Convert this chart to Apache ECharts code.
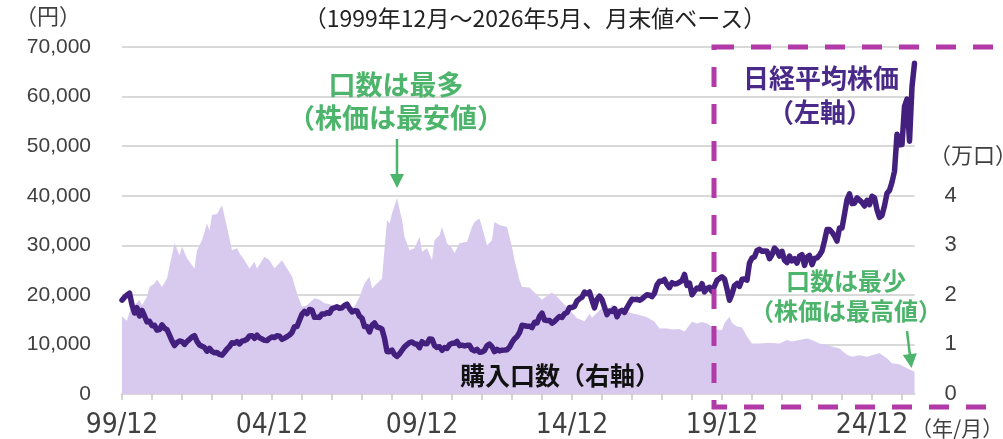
<!DOCTYPE html>
<html>
<head>
<meta charset="utf-8">
<script src="https://cdn.jsdelivr.net/npm/echarts@6/dist/echarts.min.js"></script>
<style>
  html, body { margin: 0; padding: 0; background: #fff; }
  #chart { width: 1003px; height: 439px; }
</style>
</head>
<body>
<div id="chart"></div>
<script>
// 日経平均株価 月末値 1999/12 ～ 2026/5 (index 0 = 1999/12)
var nikkei = [
  18934,
  19540, 19960, 20337, 17974, 16332, 17411, 15727, 16861, 15747, 14539, 14649, 13786,
  13844, 12884, 12999, 13934, 13262, 12969, 11861, 10714, 9775, 10367, 10697, 10543,
  9998, 10588, 11025, 11493, 11764, 10622, 9878, 9619, 9383, 8640, 9216, 8579,
  8340, 8363, 7973, 7831, 8425, 9083, 9563, 10344, 10219, 10560, 10101, 10677,
  10784, 11042, 11715, 11762, 11236, 11859, 11326, 11082, 10824, 10771, 11231, 11489,
  11388, 11741, 11669, 11009, 11277, 11584, 11900, 12414, 13574, 13607, 14872, 16111,
  16650, 16205, 17060, 16906, 15467, 15505, 15457, 16141, 16128, 16399, 16274, 17226,
  17383, 17604, 17288, 17400, 17876, 18138, 17249, 16569, 16786, 16738, 15681, 15308,
  13592, 13603, 12526, 13850, 14339, 13481, 13377, 13073, 11260, 8577, 8512, 8860,
  7994, 7568, 8110, 8828, 9523, 9958, 10357, 10493, 10133, 10035, 9346, 10546,
  10198, 10126, 11090, 11057, 9769, 9383, 9537, 8824, 9369, 9202, 9937, 10229,
  10238, 10624, 9755, 9850, 9694, 9816, 9833, 8955, 8700, 8988, 8435, 8455,
  8803, 9723, 10084, 9521, 8543, 9007, 8695, 8840, 8870, 8928, 9446, 10395,
  11139, 11559, 12398, 13861, 13775, 13677, 13668, 13389, 14456, 14328, 15662, 16291,
  14915, 14841, 14828, 14304, 14632, 15162, 15621, 15425, 16174, 16414, 17460, 17451,
  17674, 18798, 19207, 19520, 20563, 20236, 20585, 18890, 17388, 19083, 19747, 19034,
  17518, 16027, 16759, 16666, 17235, 15576, 16569, 16887, 16450, 17425, 18308, 19114,
  19041, 19119, 18909, 19197, 19651, 20033, 19925, 19646, 20356, 22012, 22725, 22765,
  23098, 22068, 21454, 22468, 22202, 22305, 22554, 22865, 24120, 21920, 22351, 20015,
  20773, 21385, 21206, 22259, 20601, 21276, 21522, 20704, 21756, 22927, 23294, 23657,
  23205, 21143, 18917, 20194, 21878, 22288, 21710, 23140, 23185, 22977, 26434, 27444,
  27663, 28966, 29179, 28813, 28860, 28792, 27284, 28090, 29453, 28893, 27822, 28792,
  27002, 26527, 27821, 26848, 27280, 26393, 27802, 28092, 25937, 27587, 27969, 26095,
  27327, 27446, 28041, 28856, 30888, 33189, 33172, 32619, 31858, 30859, 33487, 33464,
  36287, 39166, 40369, 38406, 38488, 39583, 39102, 38648, 37920, 39081, 38208, 39895,
  39572, 37156, 35618, 36045, 37965, 40487, 41070, 42718, 44933, 52411, 50254, 50339,
  58000, 59500, 51000, 62000, 66700
];

// 購入口数（万口）: [月数(1999/12からの経過月), 値]
var units = [
  [0,1.57],[1,1.52],[2,1.48],[4,1.83],[5,1.79],[7,1.9],[8,1.79],[10,1.96],[11,2.16],[13,2.23],
  [14,2.31],[16,2.16],[18,2.33],[19,2.57],[21,3.04],[23,2.8],[24,2.97],[26,2.74],[29,2.53],[30,2.9],
  [32,3.1],[34,3.44],[35,3.3],[36,3.61],[38,3.63],[40,3.81],[42,3.37],[44,2.9],[46,2.94],[47,2.84],
  [49,2.7],[51,2.53],[53,2.67],[54,2.53],[57,2.77],[59,2.7],[61,2.53],[64,2.7],[66,2.53],[68,2.37],
  [70,2.03],[72,1.76],[74,1.79],[77,1.93],[79,1.9],[81,1.83],[85,1.79],[89,1.76],[93,1.76],[95,1.96],
  [97,2.23],[99,2.37],[100,2.13],[102,2.23],[104,2.33],[106,3.51],[107,3.44],[108,3.64],[110,3.95],[112,3.51],
  [113,3.17],[115,2.9],[117,2.94],[119,3.17],[120,2.87],[122,2.94],[124,2.7],[125,3.1],[127,3.2],[128,3.37],
  [130,3.04],[132,2.94],[133,2.84],[135,3.04],[138,3.07],[140,3.37],[141,3.47],[143,3.54],[144,3.37],[146,3.0],
  [148,3.1],[149,3.47],[151,3.41],[154,3.37],[156,2.97],[157,2.7],[158,2.5],[159,2.3],[160,2.16],[163,2.15],
  [165,2.05],[168,1.9],[170,1.98],[172,2.05],[174,1.96],[177,1.8],[180,1.64],[182,1.53],[185,1.47],[187,1.62],
  [188,1.54],[190,1.64],[192,1.74],[194,1.65],[196,1.8],[199,1.72],[202,1.66],[204,1.63],[208,1.58],[210,1.55],
  [213,1.46],[215,1.32],[218,1.32],[220,1.3],[223,1.31],[225,1.26],[228,1.46],[230,1.42],[232,1.45],[234,1.42],
  [238,1.3],[240,1.29],[241,1.43],[243,1.56],[244,1.43],[246,1.36],[248,1.34],[250,1.16],[252,1.02],[255,1.02],
  [258,1.03],[260,1.03],[263,1.02],[266,1.09],[268,1.06],[271,1.09],[274,1.12],[276,1.09],[279,1.02],[282,0.99],
  [284,0.96],[287,0.92],[290,0.79],[292,0.75],[295,0.78],[298,0.75],[300,0.78],[303,0.82],[306,0.72],[308,0.62],
  [311,0.6],[314,0.52],[317,0.45]
];

var leftTicks = [0, 10000, 20000, 30000, 40000, 50000, 60000, 70000];
var rightTicks = [0, 1, 2, 3, 4];
var lastMonth = 317; // 2026/5

var FONT = "'Liberation Sans', Arial, 'Noto Sans CJK JP', sans-serif";
var NARROW = "'Liberation Sans Narrow', 'Arial Narrow', 'DejaVu Sans Condensed', sans-serif";
var JP = "'Noto Sans CJK JP', sans-serif";
var GREEN = '#4db56b';
var PURPLE = '#44207e';
var DASH = '#b23aa8';

function pad2(n) { return (n < 10 ? '0' : '') + n; }

var chart = echarts.init(document.getElementById('chart'));
chart.setOption({
  animation: false,
  grid: { left: 122, right: 88.5, top: 47, bottom: 45, outerBoundsMode: 'none' },
  xAxis: {
    type: 'value',
    min: 0,
    max: lastMonth,
    interval: 12,
    axisLine: { lineStyle: { color: '#d9d9d9', width: 2 } },
    axisTick: { show: true, length: 6, lineStyle: { color: '#c8c8c8', width: 1.5 } },
    splitLine: { show: false },
    axisLabel: {
      margin: 18,
      color: '#404040',
      fontSize: 28,
      fontFamily: NARROW,
      showMaxLabel: false,
      formatter: function (v) {
        if (v % 60 !== 0) return '';
        return pad2((1999 + v / 12) % 100) + '/12';
      }
    }
  },
  yAxis: [
    {
      type: 'value',
      min: leftTicks[0],
      max: leftTicks[leftTicks.length - 1],
      interval: 10000,
      axisLine: { show: false },
      axisTick: { show: false },
      splitLine: { lineStyle: { color: '#d9d9d9', width: 2 } },
      axisLabel: {
        margin: 31,
        color: '#404040',
        fontSize: 21,
        fontFamily: FONT,
        formatter: function (v) { return v.toLocaleString('en-US'); }
      }
    },
    {
      type: 'value',
      min: 0,
      max: 7,
      interval: 1,
      axisLine: { show: false },
      axisTick: { show: false },
      splitLine: { show: false },
      axisLabel: {
        margin: 30,
        color: '#404040',
        fontSize: 22,
        fontFamily: FONT,
        formatter: function (v) { return rightTicks.indexOf(v) >= 0 ? String(v) : ''; }
      }
    }
  ],
  series: [
    {
      name: '購入口数',
      type: 'line',
      yAxisIndex: 1,
      symbol: 'none',
      lineStyle: { width: 0 },
      areaStyle: { color: '#d8caef', opacity: 1 },
      itemStyle: { color: '#d8caef' },
      data: units,
      z: 1
    },
    {
      name: '日経平均株価',
      type: 'line',
      yAxisIndex: 0,
      symbol: 'none',
      lineStyle: { color: PURPLE, width: 5.5, join: 'round', cap: 'round' },
      itemStyle: { color: PURPLE },
      data: nikkei.map(function (v, i) { return [i, v]; }),
      z: 3
    }
  ],
  graphic: [
    { type: 'text', x: 535, y: 18,
      style: { text: '（1999年12月～2026年5月、月末値ベース）', font: '23px ' + JP, fill: '#222', align: 'center', verticalAlign: 'middle' } },
    { type: 'text', x: 48, y: 16,
      style: { text: '（円）', font: '22px ' + JP, fill: '#404040', align: 'center', verticalAlign: 'middle' } },
    { type: 'text', x: 929, y: 155,
      style: { text: '（万口）', font: '22px ' + JP, fill: '#404040', align: 'left', verticalAlign: 'middle' } },
    { type: 'text', x: 911, y: 428,
      style: { text: '（年/月）', font: '21px ' + JP, fill: '#404040', align: 'left', verticalAlign: 'middle' } },
    // 点線枠
    { type: 'rect', z: 50, shape: { x: 714, y: 47, width: 400, height: 360 },
      style: { fill: 'none', stroke: DASH, lineWidth: 5, lineDash: [20, 17] } },
    // 注記
    { type: 'text', z: 60, x: 821, y: 78,
      style: { text: '日経平均株価', font: 'bold 26px ' + JP, fill: '#4a2a88', align: 'center', verticalAlign: 'middle' } },
    { type: 'text', z: 60, x: 820, y: 112,
      style: { text: '（左軸）', font: 'bold 26px ' + JP, fill: '#4a2a88', align: 'center', verticalAlign: 'middle' } },
    { type: 'text', z: 60, x: 396, y: 85,
      style: { text: '口数は最多', font: 'bold 27px ' + JP, fill: GREEN, align: 'center', verticalAlign: 'middle' } },
    { type: 'text', z: 60, x: 396, y: 118,
      style: { text: '（株価は最安値）', font: 'bold 27px ' + JP, fill: GREEN, align: 'center', verticalAlign: 'middle' } },
    { type: 'text', z: 60, x: 846, y: 281,
      style: { text: '口数は最少', font: 'bold 24px ' + JP, fill: GREEN, align: 'center', verticalAlign: 'middle' } },
    { type: 'text', z: 60, x: 846, y: 311,
      style: { text: '（株価は最高値）', font: 'bold 24px ' + JP, fill: GREEN, align: 'center', verticalAlign: 'middle' } },
    { type: 'text', z: 60, x: 560, y: 375,
      style: { text: '購入口数（右軸）', font: 'bold 25px ' + JP, fill: '#111', align: 'center', verticalAlign: 'middle' } },
    // 矢印
    { type: 'line', z: 60, shape: { x1: 397, y1: 139, x2: 397, y2: 176 },
      style: { stroke: GREEN, lineWidth: 2.5 } },
    { type: 'polygon', z: 60, shape: { points: [[390, 174], [404, 174], [397, 188]] },
      style: { fill: GREEN } },
    { type: 'line', z: 60, shape: { x1: 907, y1: 331, x2: 910, y2: 356 },
      style: { stroke: GREEN, lineWidth: 2.5 } },
    { type: 'polygon', z: 60, shape: { points: [[902.8, 354.9], [916.8, 353.3], [911.5, 368]] },
      style: { fill: GREEN } }
  ]
});
</script>
</body>
</html>
